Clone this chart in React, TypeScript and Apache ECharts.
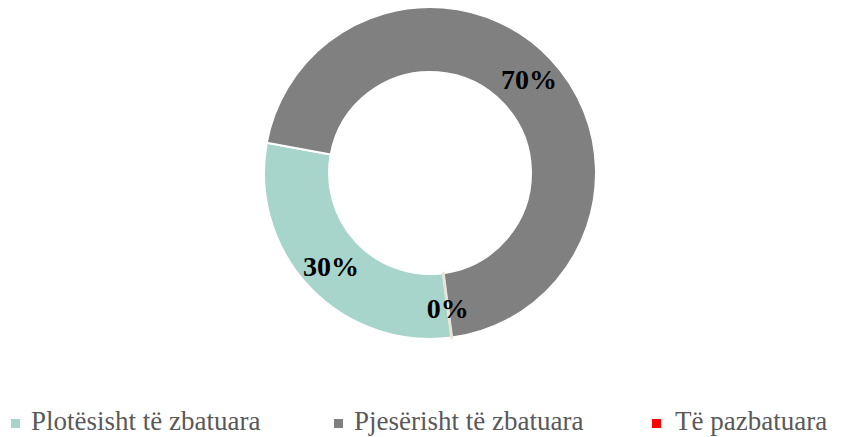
import React, { useEffect, useRef } from "react";
import * as echarts from "echarts";

const categories = ["Plotësisht të zbatuara", "Pjesërisht të zbatuara", "Të pazbatuara"];
const values = [30, 70, 0];
const colors = ["#A8D5CB", "#808080", "#FF0000"];

const FONT = "Liberation Serif";
// legend layout (x of marker, x of text)
const legendMarkerX = [11, 334, 652];
const legendTextX = [31, 354, 675];
const legendY = 422;

function richLabel(s: string) {
  return s
    .split("ë")
    .map((p) => (p.length ? "{s|" + p + "}" : ""))
    .join("{e|ë}");
}

export default function App() {
  const ref = useRef<HTMLDivElement>(null);
  useEffect(() => {
    if (!ref.current) return;
    const chart = echarts.init(ref.current, undefined, { renderer: "svg" });
    const legendGraphics: any[] = [];
    categories.forEach((c, i) => {
      legendGraphics.push({
        type: "rect",
        shape: { x: legendMarkerX[i], y: legendY - 3, width: 9, height: 9 },
        style: { fill: colors[i] },
      });
      legendGraphics.push({
        type: "text",
        left: legendTextX[i],
        top: legendY - 15,
        style: {
          text: richLabel(c),
          fontFamily: FONT,
          fontSize: 27,
          fill: "#595959",
          rich: {
            s: { fontFamily: FONT, fontSize: 27, fill: "#595959", color: "#595959" },
            e: { fontFamily: FONT, fontSize: 27, fill: "#595959", color: "#595959" },
          },
        },
      });
    });
    chart.setOption({
      animation: false,
      backgroundColor: "#ffffff",
      graphic: legendGraphics,
      series: [
        {
          type: "pie",
          center: [430, 173],
          radius: [101, 166],
          startAngle: -82.5,
          clockwise: true,
          avoidLabelOverlap: false,
          itemStyle: { borderColor: "#ffffff", borderWidth: 2 },
          label: {
            show: true,
            position: "inside",
            formatter: "{d}%",
            fontFamily: FONT,
            fontWeight: "bold",
            fontSize: 28,
            color: "#000000",
          },
          labelLine: { show: false },
          data: categories.map((c, i) => ({
            name: c,
            value: values[i],
            itemStyle:
              values[i] === 0
                ? { color: colors[i], borderColor: "#E8E5D8", borderWidth: 3 }
                : { color: colors[i] },
          })),
        },
      ],
    });
    return () => chart.dispose();
  }, []);
  return <div ref={ref} style={{ position: "fixed", left: 0, top: 0, width: 842, height: 437 }} />;
}
